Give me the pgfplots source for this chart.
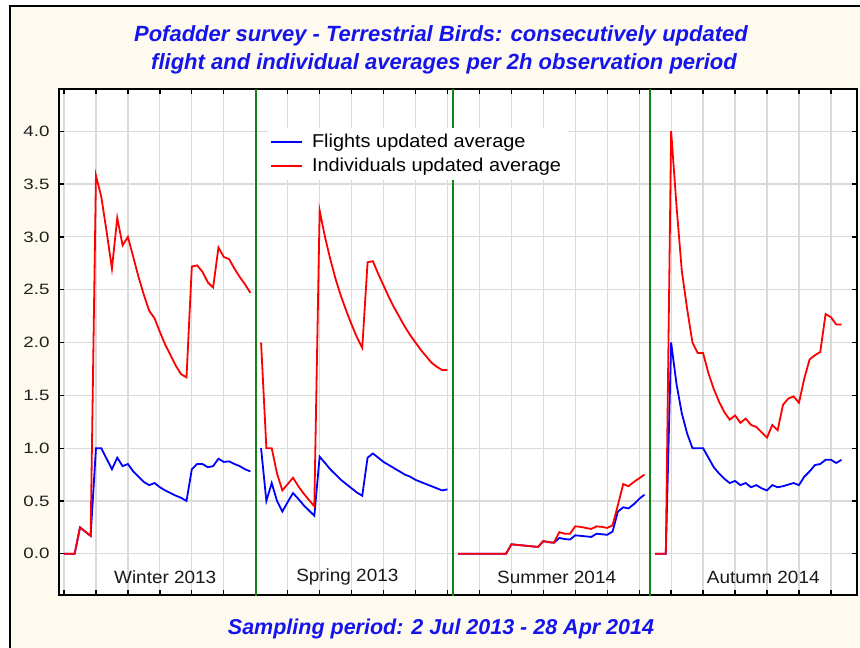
\documentclass[border=0pt]{standalone}
\usepackage{fontspec}
\setmainfont{Liberation Sans}
\newfontfamily\tickfont[FakeStretch=1.25]{Liberation Sans}
\newfontfamily\labfont[FakeStretch=1.07]{Liberation Sans}
\usepackage{pgfplots}
\usepackage{pgfplotstable}
\pgfplotsset{compat=1.18}
\definecolor{cream}{RGB}{254,250,240}
\definecolor{ttlblue}{RGB}{20,20,235}
\definecolor{gridgray}{RGB}{218,218,218}
\definecolor{sepgreen}{RGB}{20,130,20}
\definecolor{lineblue}{RGB}{0,0,255}
\definecolor{linered}{RGB}{255,0,0}

\pgfplotstableread{
x f i
0 0 0
2 0 0
3 0.25 0.25
5 0.17 0.17
6 1.00 3.58
7 1.00 3.38
8 0.90 3.05
9 0.80 2.70
10 0.91 3.18
11 0.83 2.92
12 0.85 3.00
13 0.78 2.81
14 0.73 2.62
15 0.68 2.45
16 0.65 2.30
17 0.67 2.23
18 0.63 2.10
19 0.60 1.98
20 0.575 1.88
21 0.55 1.78
22 0.53 1.70
23 0.50 1.67
24 0.80 2.72
25 0.85 2.73
26 0.85 2.67
27 0.82 2.57
28 0.83 2.52
29 0.90 2.90
30 0.87 2.81
31 0.875 2.79
32 0.85 2.70
33 0.83 2.62
34 0.80 2.55
35 0.78 2.47
}\winter

\pgfplotstableread{
x f i
37 1.00 2.00
38 0.50 1.00
39 0.67 1.00
40 0.50 0.76
41 0.40 0.60
42 0.49 0.66
43 0.575 0.72
44 0.52 0.64
45 0.46 0.57
46 0.41 0.51
47 0.36 0.45
48 0.92 3.25
49 0.86 3.00
50 0.80 2.79
51 0.75 2.60
52 0.70 2.44
53 0.66 2.30
54 0.62 2.17
55 0.58 2.05
56 0.55 1.95
57 0.91 2.76
58 0.95 2.77
59 0.91 2.65
60 0.87 2.54
61 0.84 2.43
62 0.81 2.33
63 0.78 2.24
64 0.75 2.15
65 0.73 2.07
66 0.70 2.00
67 0.68 1.93
68 0.66 1.87
69 0.64 1.81
70 0.62 1.77
71 0.60 1.74
72 0.61 1.74
}\spring

\pgfplotstableread{
x f i
74 0 0
83 0 0
84 0.09 0.09
85 0.085 0.085
86 0.08 0.08
87 0.075 0.075
88 0.07 0.07
89 0.065 0.065
90 0.12 0.12
91 0.11 0.11
92 0.105 0.105
93 0.15 0.205
94 0.14 0.19
95 0.135 0.19
96 0.175 0.26
97 0.17 0.255
98 0.165 0.245
99 0.16 0.235
100 0.19 0.26
101 0.185 0.255
102 0.18 0.245
103 0.21 0.27
104 0.40 0.46
105 0.44 0.66
106 0.43 0.64
107 0.47 0.68
108 0.52 0.715
109 0.56 0.75
}\summer

\pgfplotstableread{
x f i
111 0 0
113 0 0
114 2.00 4.00
115 1.61 3.30
116 1.33 2.68
117 1.14 2.32
118 1.00 2.00
119 1.00 1.90
120 1.00 1.90
121 0.91 1.71
122 0.82 1.56
123 0.76 1.44
124 0.71 1.34
125 0.67 1.27
126 0.69 1.31
127 0.65 1.24
128 0.67 1.28
129 0.63 1.22
130 0.65 1.20
131 0.62 1.15
132 0.60 1.10
133 0.65 1.22
134 0.63 1.17
135 0.64 1.41
136 0.655 1.47
137 0.67 1.49
138 0.65 1.43
139 0.73 1.66
140 0.78 1.84
141 0.84 1.88
142 0.85 1.91
143 0.89 2.27
144 0.89 2.24
145 0.86 2.17
146 0.89 2.17
}\autumn

\begin{document}
\begin{tikzpicture}[x=1pt,y=1pt]
\useasboundingbox (0,0) rectangle (860,-648);
\clip (0,0) rectangle (860,-648);
\fill[white] (0,0) rectangle (860,-648);
\fill[cream] (10,-6) rectangle (880,-670);
\draw[black, line width=1.6pt] (10,-670) -- (10,-6) -- (880,-6);

\node[font=\bfseries\itshape\fontsize{22}{26}\selectfont, text=ttlblue, anchor=base] at (441,-41) {Pofadder survey - Terrestrial Birds: consecutively updated};
\node[font=\bfseries\itshape\fontsize{22}{26}\selectfont, text=ttlblue, anchor=base] at (444,-69) {flight and individual averages per 2h observation period};
\node[font=\bfseries\itshape\fontsize{21.5}{26}\selectfont, text=ttlblue, anchor=base] at (441,-634) {Sampling period: 2 Jul 2013 - 28 Apr 2014};

\begin{axis}[
  at={(59pt,-595pt)}, anchor=south west,
  width=798pt, height=506pt, scale only axis,
  xmin=-0.94, xmax=148.9, ymin=-0.39, ymax=4.40,
  axis background/.style={fill=white},
  axis line style={black, line width=1.8pt},
  xtick={0,6,...,144}, xticklabels={},
  ytick={0,0.5,...,4},
  /pgf/number format/fixed,
  /pgf/number format/fixed zerofill,
  /pgf/number format/precision=1,
  /pgf/number format/assume math mode=true,
  yticklabel style={font=\tickfont\fontsize{15}{18}\selectfont, text=black!88, xshift=-6pt},
  tick align=inside,
  major tick length=5pt,
  every tick/.style={black, line width=1.3pt},
  grid=major,
  major grid style={gridgray, line width=1.2pt},
  legend style={at={(0.262,0.923)}, anchor=north west, draw=none, fill=white,
    font=\labfont\fontsize{18.6}{22}\selectfont, inner xsep=2pt, inner ysep=2pt, row sep=0pt,
    nodes={inner ysep=2pt, inner xsep=5pt, text height=15pt, text depth=5pt},
    /tikz/every odd column/.append style={column sep=4pt}},
  legend cell align=left,
  legend image code/.code={\draw[#1] (0pt,0pt) -- (31pt,0pt);},
]
\addplot[sepgreen, line width=2pt, forget plot] coordinates {(36,-0.5) (36,4.5)};
\addplot[sepgreen, line width=2pt, forget plot] coordinates {(73,-0.5) (73,4.5)};
\addplot[sepgreen, line width=2pt, forget plot] coordinates {(110,-0.5) (110,4.5)};

\addplot[lineblue, line width=1.8pt] table[x=x, y=f] {\winter};
\addlegendentry{Flights updated average}
\addplot[linered, line width=1.8pt] table[x=x, y=i] {\winter};
\addlegendentry{Individuals updated average}

\addplot[lineblue, line width=1.8pt, forget plot] table[x=x, y=f] {\spring};
\addplot[linered, line width=1.8pt, forget plot] table[x=x, y=i] {\spring};
\addplot[lineblue, line width=1.8pt, forget plot] table[x=x, y=f] {\summer};
\addplot[linered, line width=1.8pt, forget plot] table[x=x, y=i] {\summer};
\addplot[lineblue, line width=1.8pt, forget plot] table[x=x, y=f] {\autumn};
\addplot[linered, line width=1.8pt, forget plot] table[x=x, y=i] {\autumn};

\node[font=\labfont\fontsize{17.7}{20}\selectfont, text=black!90] at (axis cs:19.0,-0.22) {Winter 2013};
\node[font=\labfont\fontsize{17.7}{20}\selectfont, text=black!90] at (axis cs:53.2,-0.22) {Spring 2013};
\node[font=\labfont\fontsize{17.7}{20}\selectfont, text=black!90] at (axis cs:92.5,-0.22) {Summer 2014};
\node[font=\labfont\fontsize{17.7}{20}\selectfont, text=black!90] at (axis cs:131.3,-0.22) {Autumn 2014};
\end{axis}
\end{tikzpicture}
\end{document}
